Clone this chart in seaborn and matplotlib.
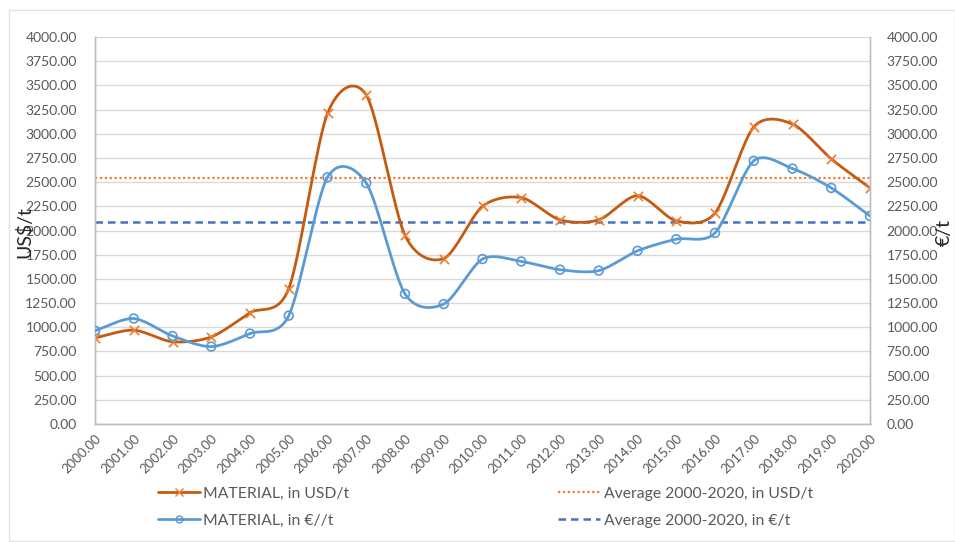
import numpy as np
import pandas as pd
import matplotlib
matplotlib.use("Agg")
import matplotlib.pyplot as plt
from matplotlib.lines import Line2D
from matplotlib.patches import Rectangle
import seaborn as sns

years = [2000, 2001, 2002, 2003, 2004, 2005, 2006, 2007, 2008, 2009, 2010,
         2011, 2012, 2013, 2014, 2015, 2016, 2017, 2018, 2019, 2020]
usd_per_t = [890, 970, 850, 900, 1150, 1400, 3210, 3400, 1950, 1710, 2250,
             2340, 2110, 2110, 2360, 2100, 2180, 3070, 3100, 2740, 2440]
eur_per_t = [965, 1090, 910, 800, 935, 1120, 2550, 2490, 1345, 1240, 1705,
             1680, 1595, 1585, 1790, 1910, 1975, 2720, 2640, 2440, 2150]
avg_usd = 2545
avg_eur = 2090
y_ticks = [0, 250, 500, 750, 1000, 1250, 1500, 1750, 2000, 2250, 2500,
           2750, 3000, 3250, 3500, 3750, 4000]

C_USD_LINE = "#C55A11"
C_USD_MARK = "#ED7D31"
C_EUR = "#5B9BD5"
C_AVG_USD = "#ED7D31"
C_AVG_EUR = "#4472C4"
GRID = "#D9D9D9"
TXT = "#595959"


def smooth(xs, ys, n=30, tension=0.85):
    """Cardinal curve through the points, like an office chart's smoothed line."""
    xs = np.asarray(xs, float)
    ys = np.asarray(ys, float)
    k = len(xs)
    mx = np.empty(k)
    my = np.empty(k)
    for i in range(k):
        a = max(i - 1, 0)
        b = min(i + 1, k - 1)
        mx[i] = tension * (xs[b] - xs[a]) / (b - a)
        my[i] = tension * (ys[b] - ys[a]) / (b - a)
    out_x, out_y = [], []
    t = np.linspace(0, 1, n, endpoint=False)
    h00 = 2 * t**3 - 3 * t**2 + 1
    h10 = t**3 - 2 * t**2 + t
    h01 = -2 * t**3 + 3 * t**2
    h11 = t**3 - t**2
    for i in range(k - 1):
        out_x.append(h00 * xs[i] + h10 * mx[i] + h01 * xs[i + 1] + h11 * mx[i + 1])
        out_y.append(h00 * ys[i] + h10 * my[i] + h01 * ys[i + 1] + h11 * my[i + 1])
    out_x.append([xs[-1]])
    out_y.append([ys[-1]])
    return np.concatenate(out_x), np.concatenate(out_y)


sns.set_theme(style="white")
plt.rcParams["font.family"] = ["Lato", "DejaVu Sans"]

fig = plt.figure(figsize=(9.55, 5.42), dpi=100)
ax = fig.add_axes([95 / 955, 1 - 424 / 542, (870 - 95) / 955, (424 - 37) / 542])
ax2 = ax.twinx()

# light frame around the whole chart
fig.patches.append(Rectangle((9 / 955, 0.002), 1.0 - 9 / 955, 1 - 10 / 542 - 0.002,
                             transform=fig.transFigure, fill=False,
                             edgecolor="#E3E3E3", linewidth=1.0, zorder=0))

sx, sy = smooth(years, usd_per_t)
ex, ey = smooth(years, eur_per_t)
curves_usd = pd.DataFrame({"year": sx, "value": sy})
curves_eur = pd.DataFrame({"year": ex, "value": ey})
pts = pd.DataFrame({"year": years, "usd": usd_per_t, "eur": eur_per_t})

ax.set_xlim(years[0], years[-1])
ax.set_ylim(0, 4000)
ax2.set_ylim(0, 4000)

ax.axhline(avg_usd, color=C_AVG_USD, linestyle=(0, (1, 1.2)), linewidth=1.6, zorder=2)
ax.axhline(avg_eur, color=C_AVG_EUR, linestyle=(0, (3, 2)), linewidth=1.8, zorder=2)

sns.lineplot(data=curves_usd, x="year", y="value", ax=ax, color=C_USD_LINE,
             linewidth=2.0, sort=False, estimator=None, zorder=4)
ax.scatter(pts["year"], pts["usd"], marker="x", s=45, color=C_USD_MARK,
           linewidths=1.2, zorder=5)

sns.lineplot(data=curves_eur, x="year", y="value", ax=ax2, color=C_EUR,
             linewidth=2.0, sort=False, estimator=None, zorder=4)
ax2.scatter(pts["year"], pts["eur"], marker="o", s=40, facecolor="none",
            edgecolor=C_EUR, linewidths=1.2, zorder=5)

ax.set_yticks(y_ticks)
ax2.set_yticks(y_ticks)
ax.set_yticklabels([f"{v:.2f}" for v in y_ticks], color=TXT, fontsize=10)
ax2.set_yticklabels([f"{v:.2f}" for v in y_ticks], color=TXT, fontsize=10)
ax.set_xticks(years)
ax.set_xticklabels([f"{y:.2f}" for y in years], rotation=45, ha="right",
                   rotation_mode="anchor", color=TXT, fontsize=9.5)
ax.tick_params(axis="x", length=0, pad=6)
ax.tick_params(axis="y", length=0, pad=13)
ax2.tick_params(axis="y", length=0, pad=12)

ax.grid(axis="y", color=GRID, linewidth=1.0)
ax.set_axisbelow(True)
for a in (ax, ax2):
    a.spines["top"].set_visible(False)
    for s in ("left", "right", "bottom"):
        a.spines[s].set_color("#BFBFBF")
        a.spines[s].set_linewidth(1.0)
    a.set_xlabel("")

ax.set_ylabel("US$/t", fontsize=14, color="#262626")
ax.yaxis.set_label_coords(-0.079, 0.496)
ax2.set_ylabel("€/t", fontsize=14, color="#262626", rotation=90,
               va="bottom", ha="center", rotation_mode="anchor")
ax2.yaxis.set_label_coords(1.107, 0.496)

handles = [
    Line2D([], [], color=C_USD_LINE, linewidth=2, marker="x", markersize=6,
           markeredgecolor=C_USD_MARK),
    Line2D([], [], color=C_EUR, linewidth=2, marker="o", markersize=5,
           markerfacecolor="none", markeredgecolor=C_EUR),
    Line2D([], [], color=C_AVG_USD, linewidth=1.6, linestyle=(0, (1, 1.2))),
    Line2D([], [], color=C_AVG_EUR, linewidth=1.8, linestyle=(0, (3, 2))),
]
labels = ["MATERIAL, in USD/t", "MATERIAL, in €//t",
          "Average 2000-2020, in USD/t", "Average 2000-2020, in €/t"]
leg = fig.legend(handles, labels, ncol=2, loc="center", bbox_to_anchor=(0.508, 0.064),
                 frameon=False, fontsize=11.3, handlelength=2.7, handletextpad=0.2,
                 columnspacing=13.3, labelspacing=0.85)
for t in leg.get_texts():
    t.set_color(TXT)

fig.savefig("out.png", dpi=100)
